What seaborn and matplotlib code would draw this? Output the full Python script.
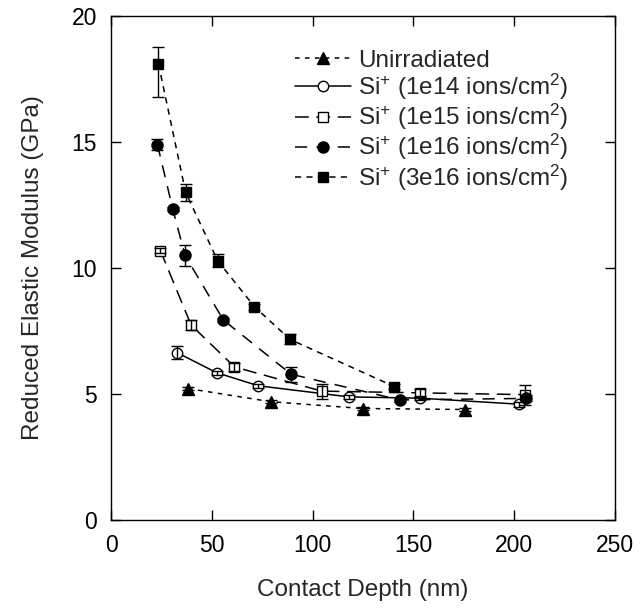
import matplotlib
matplotlib.use("Agg")
import matplotlib.pyplot as plt
import seaborn as sns
import pandas as pd

sns.set_style("ticks")
plt.rcParams['font.family'] = ['Liberation Sans', 'DejaVu Sans']
plt.rcParams['mathtext.default'] = 'regular'

labels = ["Unirradiated",
          "Si$^{+}$ (1e14 ions/cm$^{2}$)",
          "Si$^{+}$ (1e15 ions/cm$^{2}$)",
          "Si$^{+}$ (1e16 ions/cm$^{2}$)",
          "Si$^{+}$ (3e16 ions/cm$^{2}$)"]

x_unirr = [38.3, 79.2, 124.8, 175.6]
y_unirr = [5.22, 4.70, 4.43, 4.39]
e_unirr = [0.05, 0.05, 0.05, 0.05]

x_1e14 = [32.6, 52.4, 73.1, 118.1, 153.3, 202.5]
y_1e14 = [6.65, 5.85, 5.33, 4.89, 4.84, 4.60]
e_1e14 = [0.25, 0.08, 0.08, 0.08, 0.08, 0.1]

x_1e15 = [24.5, 39.7, 61.2, 104.5, 153.3, 205.4]
y_1e15 = [10.69, 7.74, 6.08, 5.12, 5.05, 4.98]
e_1e15 = [0.1, 0.2, 0.15, 0.3, 0.15, 0.4]

x_1e16 = [23.0, 30.6, 36.7, 55.7, 89.3, 143.3, 205.8]
y_1e16 = [14.9, 12.34, 10.5, 7.94, 5.79, 4.77, 4.83]
e_1e16 = [0.2, 0.08, 0.4, 0.08, 0.3, 0.08, 0.12]

x_3e16 = [23.5, 37.0, 52.9, 71.1, 88.8, 140.5]
y_3e16 = [18.1, 13.0, 10.29, 8.47, 7.17, 5.30]
e_3e16_lo = [1.3, 0.35, 0.25, 0.12, 0.2, 0.1]
e_3e16_hi = [0.65, 0.35, 0.25, 0.12, 0.2, 0.1]

fig = plt.figure(figsize=(6.42, 6.12), dpi=100)
ax = fig.add_axes([0.173, 0.150, 0.785, 0.824])

series = [
    (x_unirr, y_unirr, [e_unirr, e_unirr], '^', 'black', (3, 3.5), 8),
    (x_1e14, y_1e14, [e_1e14, e_1e14], 'o', 'white', None, 7.5),
    (x_1e15, y_1e15, [e_1e15, e_1e15], 's', 'white', (9, 5), 7.5),
    (x_1e16, y_1e16, [e_1e16, e_1e16], 'o', 'black', (8, 6), 8),
    (x_3e16, y_3e16, [e_3e16_lo, e_3e16_hi], 's', 'black', (4, 3.5), 7.5),
]

for (xs, ys, errs, mk, fc, dash, ms), lab in zip(series, labels):
    df = pd.DataFrame({"x": xs, "y": ys})
    sns.lineplot(data=df, x="x", y="y", ax=ax, color="black", lw=1.1,
                 marker=mk, markersize=ms, markerfacecolor=fc,
                 markeredgecolor="black", markeredgewidth=1.0,
                 label=lab, sort=False, zorder=2)
    line = ax.lines[-1]
    if dash is not None:
        line.set_dashes(dash)
    ax.errorbar(xs, ys, yerr=errs, fmt='none', ecolor='black',
                elinewidth=1.0, capsize=4, capthick=1.0, zorder=3)

ax.set_xlim(0, 250)
ax.set_ylim(0, 20)
ax.set_xticks([0, 50, 100, 150, 200, 250])
ax.set_yticks([0, 5, 10, 15, 20])
ax.tick_params(direction='in', length=7, width=1, top=True, right=True,
               labelsize=16.5, colors='black', pad=10)
for s in ax.spines.values():
    s.set_linewidth(1.0)
    s.set_color('black')

ax.set_xlabel("Contact Depth (nm)", fontsize=17.5, labelpad=16)
ax.set_ylabel("Reduced Elastic Modulus (GPa)", fontsize=17.5, labelpad=20)

leg = ax.legend(loc='upper left', bbox_to_anchor=(0.345, 0.952), frameon=False,
                fontsize=17.5, handlelength=2.3, handletextpad=0.3,
                labelspacing=0.0, borderaxespad=0)

fig.savefig("out.png", dpi=100)
